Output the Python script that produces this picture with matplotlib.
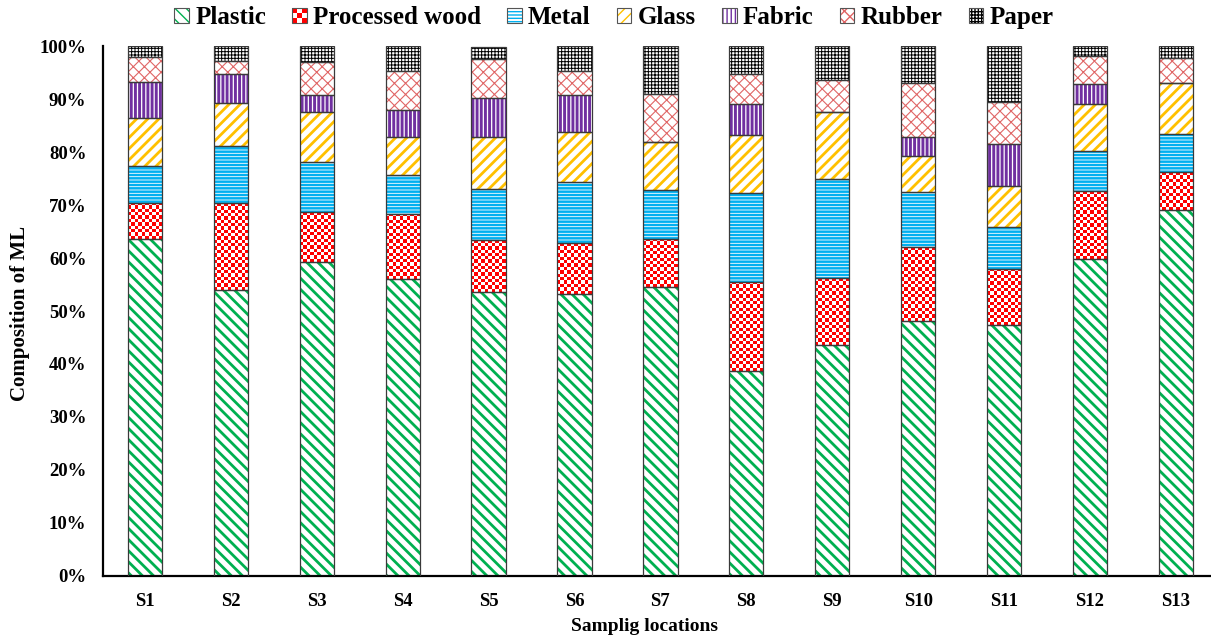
import numpy as np
import matplotlib
matplotlib.use("Agg")
import matplotlib.pyplot as plt
from matplotlib.colors import ListedColormap
from matplotlib.patches import Patch, Rectangle
from matplotlib.legend_handler import HandlerBase, HandlerTuple

plt.rcParams['font.family'] = ['Liberation Serif', 'DejaVu Serif']
plt.rcParams['font.weight'] = 'bold'

# data (% composition of marine litter per sampling location)
locations = ['S1', 'S2', 'S3', 'S4', 'S5', 'S6', 'S7', 'S8', 'S9', 'S10', 'S11', 'S12', 'S13']
plastic = [63.6, 54.0, 59.3, 56.0, 53.6, 53.3, 54.5, 38.7, 43.6, 48.2, 47.3, 59.9, 69.1]
wood    = [6.8, 16.3, 9.4, 12.3, 9.8, 9.5, 9.1, 16.8, 12.6, 13.8, 10.6, 12.8, 7.1]
metal   = [7.0, 10.8, 9.5, 7.4, 9.7, 11.6, 9.2, 16.7, 18.8, 10.4, 7.9, 7.4, 7.2]
glass   = [9.0, 8.1, 9.3, 7.2, 9.7, 9.3, 9.0, 11.1, 12.5, 6.9, 7.8, 9.0, 9.6]
fabric  = [6.9, 5.5, 3.3, 5.0, 7.4, 7.1, 0.0, 5.7, 0.0, 3.5, 8.0, 3.7, 0.0]
rubber  = [4.6, 2.5, 6.1, 7.3, 7.4, 4.5, 9.1, 5.8, 6.0, 10.3, 7.9, 5.4, 4.7]
paper   = [2.1, 2.8, 3.1, 4.8, 2.3, 4.7, 9.1, 5.2, 6.5, 6.9, 10.5, 1.8, 2.3]

series = [
    ('Plastic', plastic, '#00B050', '\\\\\\', 2.0),
    ('Processed wood', wood, '#FF0000', None, 0),
    ('Metal', metal, '#00B0F0', '-----', 1.8),
    ('Glass', glass, '#FFC000', '///', 2.0),
    ('Fabric', fabric, '#7030A0', '||||', 2.1),
    ('Rubber', rubber, '#E06666', 'xxx', 0.8),
    ('Paper', paper, '#000000', '+++++', 0.7),
]

fig = plt.figure(figsize=(12.11, 6.39), dpi=100)
ax = fig.add_axes([0.0851, 0.0986, 0.9149, 0.8294])

x = np.arange(len(locations))
width = 0.4
bottom = np.zeros(len(locations))
checker_cmap = ListedColormap(['white', '#FF0000'])

for name, vals, color, hatch, hlw in series:
    vals = np.array(vals)
    if hatch is None:
        # checker board pattern for processed wood
        bars = ax.bar(x, vals, width, bottom=bottom, color='white', linewidth=0, zorder=1)
        for p in bars:
            h = p.get_height()
            if h <= 0:
                continue
            nrows = max(1, int(round(h / 0.62)))
            grid = np.indices((nrows, 10)).sum(axis=0) % 2
            ax.imshow(grid, cmap=checker_cmap, interpolation='nearest', aspect='auto',
                      extent=(p.get_x(), p.get_x() + p.get_width(), p.get_y(), p.get_y() + h),
                      zorder=2)
    else:
        bars = ax.bar(x, vals, width, bottom=bottom, color='white', edgecolor=color,
                      hatch=hatch, linewidth=0, zorder=2)
        for p in bars:
            if hasattr(p, 'set_hatch_linewidth'):
                p.set_hatch_linewidth(hlw)
    # segment outline
    ax.bar(x, vals, width, bottom=bottom, fill=False, edgecolor='#3a3a3a', linewidth=0.9, zorder=3)
    bottom += vals

ax.set_xlim(-0.489, 12.41)
ax.set_ylim(0, 100)
ax.set_xticks(x)
ax.set_xticklabels(locations)
ax.set_yticks(np.arange(0, 101, 10))
ax.set_yticklabels([f'{v}%' for v in range(0, 101, 10)])
ax.tick_params(axis='both', length=0, labelsize=13.5, pad=12)
for s in ['top', 'right']:
    ax.spines[s].set_visible(False)
for s in ['left', 'bottom']:
    ax.spines[s].set_linewidth(1.6)
ax.set_xlabel('Samplig locations', fontsize=14, fontweight='bold')
ax.set_ylabel('Composition of ML', fontsize=15, fontweight='bold')
ax.xaxis.set_label_coords(0.489, -0.08)
ax.yaxis.set_label_coords(-0.066, 0.495)


class CheckerHandler(HandlerBase):
    def create_artists(self, legend, orig_handle, xdescent, ydescent, width, height, fontsize, trans):
        n = 3
        arts = [Rectangle((-xdescent, -ydescent), width, height, facecolor='white',
                          edgecolor='none', transform=trans)]
        for r in range(n):
            for c in range(n):
                if (r + c) % 2 == 0:
                    arts.append(Rectangle((-xdescent + c * width / n, -ydescent + r * height / n),
                                          width / n, height / n, facecolor='#FF0000',
                                          linewidth=0, transform=trans))
        arts.append(Rectangle((-xdescent, -ydescent), width, height, fill=False,
                              edgecolor='#555555', linewidth=0.8, transform=trans))
        return arts


class WoodKey:
    pass


handles = []
labels = []
handler_map = {WoodKey: CheckerHandler(), tuple: HandlerTuple(ndivide=1)}
for name, vals, color, hatch, hlw in series:
    if hatch is None:
        handles.append(WoodKey())
    else:
        hp = Patch(facecolor='white', edgecolor=color, hatch=hatch, linewidth=0)
        if hasattr(hp, 'set_hatch_linewidth'):
            hp.set_hatch_linewidth(hlw)
        handles.append((hp, Patch(fill=False, edgecolor='#555555', linewidth=0.8)))
    labels.append(name)

fig.legend(handles, labels, handler_map=handler_map, ncol=7, loc='center',
           bbox_to_anchor=(0.507, 0.972), frameon=False,
           prop={'size': 18, 'weight': 'bold'}, handlelength=0.58, handleheight=0.58,
           handletextpad=0.25, columnspacing=1.05, borderaxespad=0)

fig.savefig('out.png', dpi=100)
